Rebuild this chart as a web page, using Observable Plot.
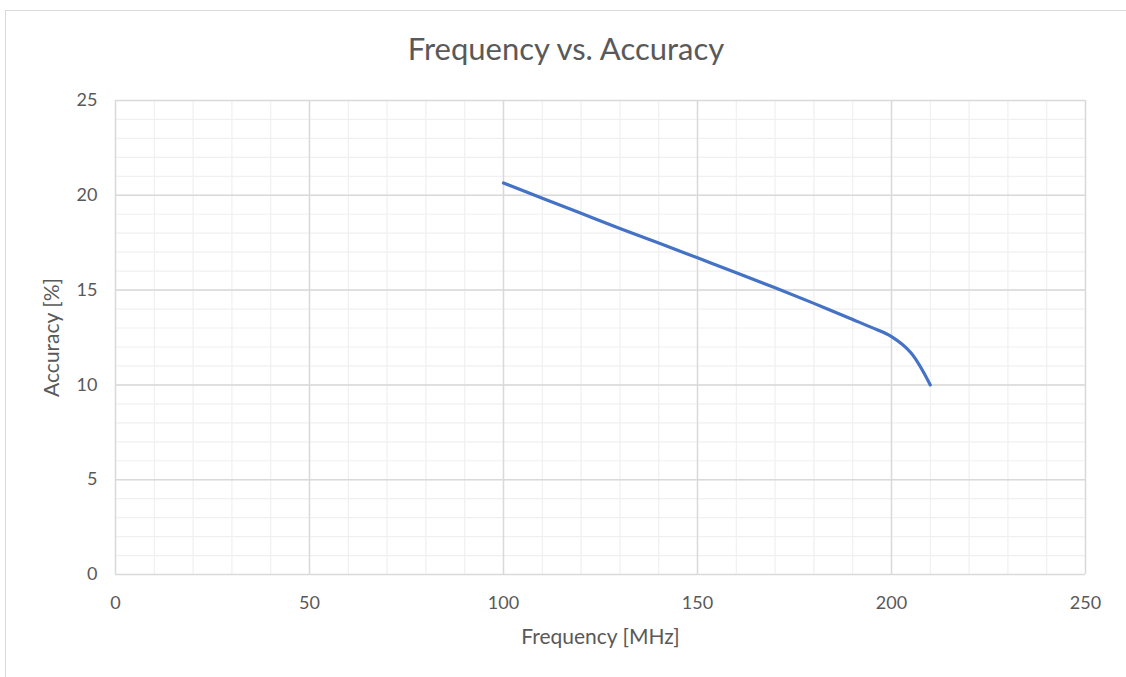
<!DOCTYPE html>
<html>
<head>
<meta charset="utf-8">
<script src="https://cdn.jsdelivr.net/npm/d3@7"></script>
<script src="https://cdn.jsdelivr.net/npm/@observablehq/plot@0.6"></script>
<style>
  body { margin: 0; background: #fff; font-family: Lato, "Open Sans", sans-serif; }
  #wrap { position: relative; width: 1126px; height: 677px; overflow: hidden; }
  #box { position: absolute; left: 5px; top: 10px; width: 1130px; height: 700px;
         border-left: 1.5px solid #d9d9d9; border-top: 1.5px solid #d9d9d9; }
  #title { position: absolute; left: 5px; width: 1122px; top: 29px; text-align: center;
           font-size: 31px; color: #595959; }
  #chart { position: absolute; left: 0; top: 80px; }
</style>
</head>
<body>
<div id="wrap">
  <div id="box"></div>
  <div id="title">Frequency vs. Accuracy</div>
  <div id="chart"></div>
</div>
<script>
const frequency = [100, 110, 120, 130, 140, 150, 160, 170, 180, 190, 195, 200, 205, 210];
const accuracy  = [20.65, 19.85, 19.05, 18.25, 17.48, 16.7, 15.92, 15.12, 14.3, 13.45, 13.02, 12.55, 11.7, 10.0];
const xTicks = [0, 50, 100, 150, 200, 250];
const yTicks = [0, 5, 10, 15, 20, 25];
const xMinor = d3.range(0, 251, 10);
const yMinor = d3.range(0, 26, 1);
const xTitle = "Frequency [MHz]";
const yTitle = "Accuracy [%]";

const data = frequency.map((f, i) => ({f, a: accuracy[i]}));

const plot = Plot.plot({
  width: 1126,
  height: 580,
  marginLeft: 115,
  marginRight: 41,
  marginTop: 20,
  marginBottom: 86,
  style: { fontFamily: "Lato, 'Open Sans', sans-serif", color: "#595959", background: "transparent" },
  x: { domain: [0, 250] },
  y: { domain: [0, 25] },
  marks: [
    Plot.ruleX(xMinor, { stroke: "#f0f0f0", strokeWidth: 1.2 }),
    Plot.ruleY(yMinor, { stroke: "#f0f0f0", strokeWidth: 1.2 }),
    Plot.ruleX(xTicks, { stroke: "#d9d9d9", strokeWidth: 1.5 }),
    Plot.ruleY(yTicks, { stroke: "#d9d9d9", strokeWidth: 1.5 }),
    Plot.axisX(xTicks, { tickSize: 0, tickPadding: 22, fontSize: 18, label: null }),
    Plot.axisY(yTicks, { tickSize: 0, tickPadding: 18, fontSize: 18, label: null }),
    Plot.text([xTitle], { frameAnchor: "bottom", dy: 69, fontSize: 21, fill: "#595959" }),
    Plot.text([yTitle], { frameAnchor: "left", dx: -63, rotate: -90, textAnchor: "middle", fontSize: 21, fill: "#595959" }),
    Plot.line(data, { x: "f", y: "a", stroke: "#4472C4", strokeWidth: 3.2, curve: "catmull-rom" })
  ]
});
document.getElementById("chart").appendChild(plot);
</script>
</body>
</html>
